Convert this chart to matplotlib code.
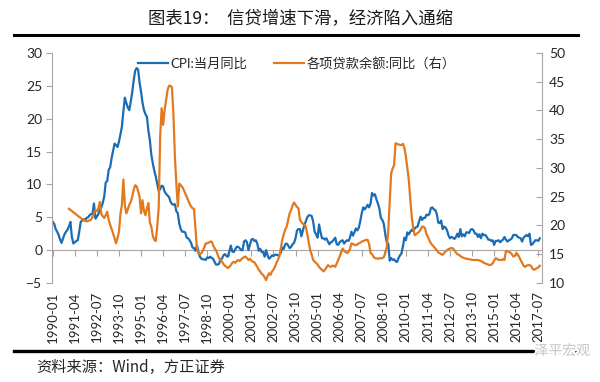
import matplotlib
matplotlib.use('Agg')
import matplotlib.pyplot as plt
import matplotlib.patheffects as pe
from matplotlib.lines import Line2D
import numpy as np
import pandas as pd

plt.rcParams['font.family'] = ['Lato', 'Noto Sans CJK SC', 'DejaVu Sans']

# monthly axis, 1990-01 .. 2017-08
months = pd.period_range('1990-01', '2017-08', freq='M').strftime('%Y-%m').tolist()
tick_labels = ['1990-01', '1991-04', '1992-07', '1993-10', '1995-01', '1996-04',
               '1997-07', '1998-10', '2000-01', '2001-04', '2002-07', '2003-10',
               '2005-01', '2006-04', '2007-07', '2008-10', '2010-01', '2011-04',
               '2012-07', '2013-10', '2015-01', '2016-04', '2017-07']

# CPI: 当月同比 (%), 1990-01 .. 2017-08
cpi = [
    4.3, 4.0, 3.2, 2.8, 2.3, 1.6, 1.1, 1.8, 2.4, 2.8, 3.1, 3.6,
    4.3, 2.0, 1.0, 1.2, 1.4, 1.5, 2.8, 4.3, 4.5, 4.7, 4.6, 4.9,
    5.0, 5.3, 5.5, 5.5, 7.1, 4.8, 5.1, 5.5, 6.1, 6.5, 7.2, 8.2,
    10.3, 10.5, 12.2, 12.6, 14.0, 15.1, 16.2, 16.0, 15.7, 16.5, 17.6, 18.8,
    21.1, 23.2, 22.4, 21.7, 21.3, 22.6, 24.0, 25.8, 27.3, 27.7, 27.5, 25.5,
    24.1, 22.4, 21.3, 20.7, 20.3, 18.2, 16.7, 14.5, 13.2, 12.1, 11.2, 10.1,
    9.0, 9.3, 9.8, 9.7, 8.9, 8.6, 8.3, 8.1, 7.4, 7.0, 6.9, 7.0,
    5.9, 5.6, 4.0, 3.2, 2.8, 2.8, 2.7, 1.9, 1.8, 1.5, 1.1, 0.4,
    0.3, -0.1, 0.7, -0.3, -1.0, -1.3, -1.4, -1.4, -1.5, -1.1, -1.2, -1.0,
    -1.2, -1.3, -1.8, -2.2, -2.2, -2.1, -1.4, -1.3, -0.8, -0.6, -0.9, -1.0,
    -0.2, 0.7, -0.2, -0.3, 0.1, 0.5, 0.5, 0.3, 0.0, 0.0, 1.3, 1.5,
    1.2, 0.0, 0.8, 1.6, 1.7, 1.4, 1.5, 1.0, -0.1, 0.2, -0.3, -0.3,
    -1.0, 0.0, -0.8, -1.3, -1.1, -0.8, -0.9, -0.7, -0.7, -0.8, -0.7, -0.4,
    0.4, 0.2, 0.9, 1.0, 0.7, 0.3, 0.5, 0.9, 1.1, 1.8, 3.0, 3.2,
    3.2, 2.1, 3.0, 3.8, 4.4, 5.0, 5.3, 5.3, 5.2, 4.3, 2.8, 2.4,
    1.9, 3.9, 2.7, 1.8, 1.8, 1.6, 1.8, 1.3, 0.9, 1.2, 1.3, 1.6,
    1.9, 0.9, 0.8, 1.2, 1.4, 1.5, 1.0, 1.3, 1.5, 1.4, 1.9, 2.8,
    2.2, 2.7, 3.3, 3.0, 3.4, 4.4, 5.6, 6.5, 6.2, 6.5, 6.9, 6.5,
    7.1, 8.7, 8.3, 8.5, 7.7, 7.1, 6.3, 4.9, 4.6, 4.0, 2.4, 1.2,
    1.0, -1.6, -1.2, -1.5, -1.4, -1.7, -1.8, -1.2, -0.8, -0.5, 0.6, 1.9,
    1.5, 2.7, 2.4, 2.8, 3.1, 2.9, 3.3, 3.5, 3.6, 4.4, 5.1, 4.6,
    4.9, 4.9, 5.4, 5.3, 5.5, 6.4, 6.5, 6.2, 6.1, 5.5, 4.2, 4.1,
    4.5, 3.2, 3.6, 3.4, 3.0, 2.2, 1.8, 2.0, 1.9, 1.7, 2.0, 2.5,
    2.0, 3.2, 2.1, 2.4, 2.1, 2.7, 2.7, 2.6, 3.1, 3.2, 3.0, 2.5,
    2.5, 2.0, 2.4, 1.8, 2.5, 2.3, 2.3, 2.0, 1.6, 1.6, 1.4, 1.5,
    0.8, 1.4, 1.4, 1.5, 1.2, 1.4, 1.6, 2.0, 1.6, 1.3, 1.5, 1.6,
    1.8, 2.3, 2.3, 2.3, 2.0, 1.9, 1.8, 1.3, 1.9, 2.1, 2.3, 2.1,
    2.5, 0.8, 0.9, 1.2, 1.5, 1.5, 1.4, 1.8,
]

# 各项贷款余额:同比 (%), right axis, 1990-12 .. 2017-08
loan_start = '1990-12'
loan = [
    22.9,
    22.7, 22.5, 22.3, 22.1, 21.9, 21.7, 21.5, 21.3, 21.1, 20.9, 20.8, 20.7,
    20.8, 20.9, 21.0, 21.5, 22.1, 22.7, 22.5, 23.0, 24.1, 22.0, 21.6, 21.3,
    21.8, 22.4, 21.0, 20.1, 19.4, 18.6, 17.8, 16.9, 17.8, 18.9, 22.0, 23.6,
    28.0, 23.5, 22.1, 22.8, 23.6, 24.1, 25.0, 26.2, 27.0, 26.8, 26.0, 25.0,
    22.1, 24.4, 22.5, 21.8, 23.0, 23.9, 20.5, 19.8, 18.2, 17.5, 17.3, 19.8,
    23.0, 35.5, 40.4, 37.5, 40.0, 41.8, 43.5, 44.3, 44.3, 44.0, 39.5, 32.0,
    27.3, 23.3, 27.3, 27.0, 26.7, 26.2, 25.6, 25.0, 24.4, 23.8, 23.3, 23.0,
    22.9, 19.5, 16.0, 15.2, 15.0, 15.2, 15.6, 16.2, 16.9, 16.9, 17.0, 17.2,
    17.2, 16.6, 16.0, 15.7, 15.0, 14.3, 14.0, 13.7, 13.3, 13.0, 12.8, 12.6,
    12.8, 13.1, 13.5, 13.7, 13.5, 13.8, 14.0, 13.8, 14.1, 14.3, 14.5, 14.6,
    14.3, 14.0, 14.2, 13.9, 13.7, 13.6, 13.2, 12.8, 12.3, 12.0, 11.6, 11.4,
    11.0, 10.5, 11.2, 11.7, 11.4, 12.0, 12.3, 12.8, 13.5, 14.0, 14.6, 16.0,
    17.5, 18.5, 19.3, 19.8, 21.0, 22.1, 22.7, 23.5, 24.0, 23.6, 23.2, 23.0,
    21.0, 20.6, 20.3, 20.1, 19.8, 18.5, 17.0, 15.7, 14.9, 14.0, 13.7, 13.5,
    13.2, 12.8, 12.5, 12.3, 12.0, 12.3, 12.7, 13.1, 12.9, 12.8, 13.0, 13.0,
    12.8, 13.4, 14.0, 14.6, 15.3, 16.0, 15.6, 15.4, 15.2, 15.4, 15.9, 16.9,
    16.8, 16.6, 16.6, 16.7, 16.9, 17.0, 17.2, 17.3, 17.4, 17.5, 17.5, 16.8,
    15.2, 15.0, 14.6, 14.3, 14.3, 14.2, 14.3, 14.3, 14.3, 14.5, 15.2, 16.2,
    19.0, 24.2, 29.1, 29.9, 30.5, 34.3, 34.2, 34.1, 34.0, 34.0, 34.2, 33.5,
    32.0, 30.0, 27.9, 24.5, 21.5, 19.5, 18.3, 18.5, 18.7, 18.9, 19.3, 19.8,
    19.8, 19.5, 18.5, 18.0, 17.4, 16.9, 16.6, 16.3, 16.0, 15.7, 15.3, 15.2,
    15.0, 14.9, 15.2, 15.5, 15.7, 15.9, 16.0, 16.1, 16.0, 15.7, 15.3, 15.0,
    14.9, 14.7, 14.5, 14.4, 14.3, 14.2, 14.2, 14.1, 14.1, 14.0, 14.0, 14.0,
    14.0, 14.0, 13.9, 13.8, 13.7, 13.5, 13.4, 13.3, 13.2, 13.1, 13.2, 13.4,
    13.9, 14.3, 14.2, 14.0, 14.0, 14.0, 14.1, 14.0, 15.6, 15.5, 15.4, 15.3,
    15.0, 14.6, 14.7, 15.2, 15.0, 14.5, 14.0, 13.5, 13.0, 12.8, 13.0, 13.1,
    13.1, 13.0, 12.5, 12.3, 12.4, 12.6, 12.7, 13.0,
]

BLUE = '#1a6db4'
ORANGE = '#e2791f'
GRAY = '#a6a6a6'
TXT = '#262626'

x_cpi = np.arange(len(cpi))
i0 = months.index(loan_start)
x_loan = np.arange(i0, i0 + len(loan))
tick_pos = [months.index(t) for t in tick_labels]

fig = plt.figure(figsize=(6, 3.82), dpi=100)
ax = fig.add_axes([0.0867, 0.2592, 0.8166, 0.6021])
ax2 = ax.twinx()

l1, = ax.plot(x_cpi, cpi, color=BLUE, lw=1.6, label='CPI:当月同比')
l2, = ax2.plot(x_loan, loan, color=ORANGE, lw=1.6, label='各项贷款余额:同比（右）')

ax.set_xlim(-0.5, len(months) + 0.5)
ax.set_ylim(-5, 30)
ax.set_yticks(range(-5, 31, 5))
ax2.set_ylim(10, 50)
ax2.set_yticks(range(10, 51, 5))

for a in (ax, ax2):
    for s in a.spines.values():
        s.set_visible(False)
ax.spines['left'].set_visible(True)
ax.spines['left'].set_color(GRAY)
ax2.spines['right'].set_visible(True)
ax2.spines['right'].set_color(GRAY)

ax.tick_params(axis='y', direction='out', length=4, color=GRAY,
               labelsize=10, labelcolor=TXT, pad=3)
ax2.tick_params(axis='y', direction='in', length=4, color=GRAY,
                labelsize=10, labelcolor=TXT, pad=5)

ax.set_xticks(tick_pos)
ax.set_xticklabels(tick_labels, rotation=90, fontsize=9.5, color=TXT)
ax.tick_params(axis='x', length=0, pad=6)

# zero line with ticks
zero = ax.secondary_xaxis(5 / 35)
zero.set_xticks(tick_pos)
zero.set_xticklabels([])
zero.tick_params(axis='x', direction='out', length=4, color=GRAY)
zero.spines['bottom'].set_color(GRAY)
zero.spines['bottom'].set_linewidth(0.8)

ax.legend(handles=[l1, l2], loc='upper center', bbox_to_anchor=(0.5, 1.035),
          ncol=2, frameon=False, fontsize=9.5, handlelength=2.3,
          handletextpad=0.2, columnspacing=2.0, labelcolor=TXT)

# title and frame lines
fig.text(0.5, 1 - 19 / 382, '图表19：  信贷增速下滑，经济陷入通缩',
         ha='center', va='center', fontsize=12.5, color='#1a1a1a',
         family=['Noto Sans CJK SC'])
fig.add_artist(Line2D([14 / 600, 578 / 600], [1 - 35 / 382] * 2,
                      color='black', lw=2.2, transform=fig.transFigure))
fig.add_artist(Line2D([14 / 600, 578 / 600], [1 - 351 / 382] * 2,
                      color='black', lw=2.4, transform=fig.transFigure))
fig.text(36 / 600, 1 - 367 / 382, '资料来源：Wind，方正证券',
         ha='left', va='center', fontsize=11, color='#262626',
         style='italic', family=['Noto Sans CJK SC'])
fig.text(590 / 600, 1 - 351 / 382, '泽平宏观', ha='right', va='center',
         fontsize=10, color='#c4c4c4', family=['Noto Sans CJK SC'],
         path_effects=[pe.withStroke(linewidth=3, foreground='white')])

fig.savefig('out.png', dpi=100)
